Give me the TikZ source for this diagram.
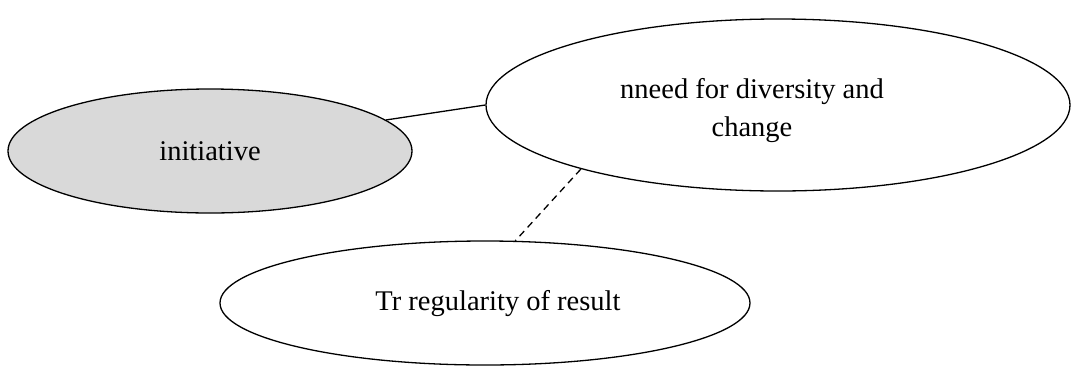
\documentclass[tikz,border=0pt]{standalone}
\usepackage{fontspec}
\setmainfont{Liberation Serif}
\usetikzlibrary{shapes.geometric}
\definecolor{bubblegray}{HTML}{D9D9D9}
\tikzset{
  bubble/.style={ellipse, draw=black, line width=1.3pt, inner sep=0pt},
  lbl/.style={font=\fontsize{28.5}{38}\selectfont, align=center, inner sep=0pt},
  link/.style={draw=black, line width=1.3pt},
}
\begin{document}
\begin{tikzpicture}[x=1pt,y=-1pt]
\useasboundingbox (0,0) rectangle (1072,365);
\node[bubble, fill=bubblegray, minimum width=404pt, minimum height=124pt] (e1) at (210,151) {};
\node[bubble, fill=white, minimum width=584pt, minimum height=172pt] (e2) at (778,105) {};
\node[bubble, fill=white, minimum width=530pt, minimum height=124pt] (e3) at (485,303) {};
\node[lbl] (t1) at (210,151) {initiative};
\node[lbl] (t2) at (752,111) {nneed for diversity and\\change};
\node[lbl] (t3) at (498,304) {Tr regularity of result};
\draw[link] (e1.10.6) -- (e2.west);
\draw[link, dash pattern=on 7pt off 5pt] (e2.198) -- (e3.64.5);
\end{tikzpicture}
\end{document}
